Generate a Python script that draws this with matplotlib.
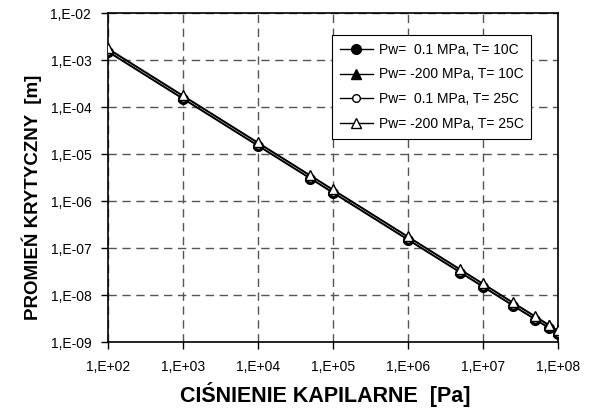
import matplotlib
matplotlib.use("Agg")
import matplotlib.pyplot as plt
from matplotlib.ticker import FixedLocator, NullLocator

plt.rcParams['font.family'] = ['Liberation Sans', 'DejaVu Sans']

pressure = [1e2, 1e3, 1e4, 5e4, 1e5, 1e6, 5e6, 1e7, 2.5e7, 5e7, 7.5e7, 1e8]
r_01_10 = [1.48e-3, 1.48e-4, 1.48e-5, 2.97e-6, 1.48e-6, 1.48e-7, 2.97e-8, 1.48e-8, 5.9e-9, 2.97e-9, 1.98e-9, 1.48e-9]
r_200_10 = [1.70e-3, 1.70e-4, 1.70e-5, 3.40e-6, 1.70e-6, 1.70e-7, 3.40e-8, 1.70e-8, 6.8e-9, 3.40e-9, 2.27e-9, 1.70e-9]
r_01_25 = [1.53e-3, 1.53e-4, 1.53e-5, 3.06e-6, 1.53e-6, 1.53e-7, 3.06e-8, 1.53e-8, 6.1e-9, 3.06e-9, 2.04e-9, 1.53e-9]
r_200_25 = [1.76e-3, 1.76e-4, 1.76e-5, 3.52e-6, 1.76e-6, 1.76e-7, 3.52e-8, 1.76e-8, 7.0e-9, 3.52e-9, 2.35e-9, 1.76e-9]
labels = ["Pw=  0.1 MPa, T= 10C", "Pw= -200 MPa, T= 10C",
          "Pw=  0.1 MPa, T= 25C", "Pw= -200 MPa, T= 25C"]
x_ticks = [1e2, 1e3, 1e4, 1e5, 1e6, 1e7, 1e8]
x_ticklabels = ["1,E+02", "1,E+03", "1,E+04", "1,E+05", "1,E+06", "1,E+07", "1,E+08"]
y_ticks = [1e-9, 1e-8, 1e-7, 1e-6, 1e-5, 1e-4, 1e-3, 1e-2]
y_ticklabels = ["1,E-09", "1,E-08", "1,E-07", "1,E-06", "1,E-05", "1,E-04", "1,E-03", "1,E-02"]

fig = plt.figure(figsize=(5.89, 4.16), dpi=100)
ax = fig.add_axes([108/589, 1-342/416, 450/589, 329/416])

ax.plot(pressure, r_01_10, color='black', lw=1.0, marker='o', ms=7, mfc='black', mec='black', label=labels[0], zorder=3)
ax.plot(pressure, r_200_10, color='black', lw=1.0, marker='^', ms=7.5, mfc='black', mec='black', label=labels[1], zorder=3)
ax.plot(pressure, r_01_25, color='black', lw=1.0, marker='o', ms=5.5, mfc='white', mec='black', mew=1.0, label=labels[2], zorder=4)
ax.plot(pressure, r_200_25, color='black', lw=1.0, marker='^', ms=6.5, mfc='white', mec='black', mew=1.0, label=labels[3], zorder=4)

ax.set_xscale('log')
ax.set_yscale('log')
ax.set_xlim(1e2, 1e8)
ax.set_ylim(1e-9, 1e-2)
ax.xaxis.set_major_locator(FixedLocator(x_ticks))
ax.yaxis.set_major_locator(FixedLocator(y_ticks))
ax.xaxis.set_minor_locator(NullLocator())
ax.yaxis.set_minor_locator(NullLocator())
ax.set_xticklabels(x_ticklabels)
ax.set_yticklabels(y_ticklabels)
ax.tick_params(axis='both', which='major', direction='out', length=5, width=1, labelsize=10)
ax.tick_params(axis='x', pad=8)
ax.tick_params(axis='y', pad=7)

ax.grid(True, which='major', color='#555555', linestyle=(0, (6, 4)), linewidth=1.0)
for s in ax.spines.values():
    s.set_color('black')
    s.set_linewidth(1.2)

ax.set_xlabel("CIŚNIENIE KAPILARNE  [Pa]", fontsize=15.5, fontweight='bold', va='center')
ax.set_ylabel("PROMIEŃ KRYTYCZNY  [m]", fontsize=13.5, fontweight='bold', va='center')
ax.xaxis.set_label_coords(0.482, -0.16)
ax.yaxis.set_label_coords(-0.17, 0.44)

leg = ax.legend(loc='upper left', bbox_to_anchor=(332/589, 1-35/416), bbox_transform=fig.transFigure,
                borderaxespad=0, fontsize=10, frameon=True, fancybox=False, framealpha=1,
                edgecolor='black', handlelength=2.4, handletextpad=0.4, labelspacing=0.78,
                borderpad=0.55)
leg.get_frame().set_linewidth(0.8)

fig.savefig("out.png", dpi=100)
